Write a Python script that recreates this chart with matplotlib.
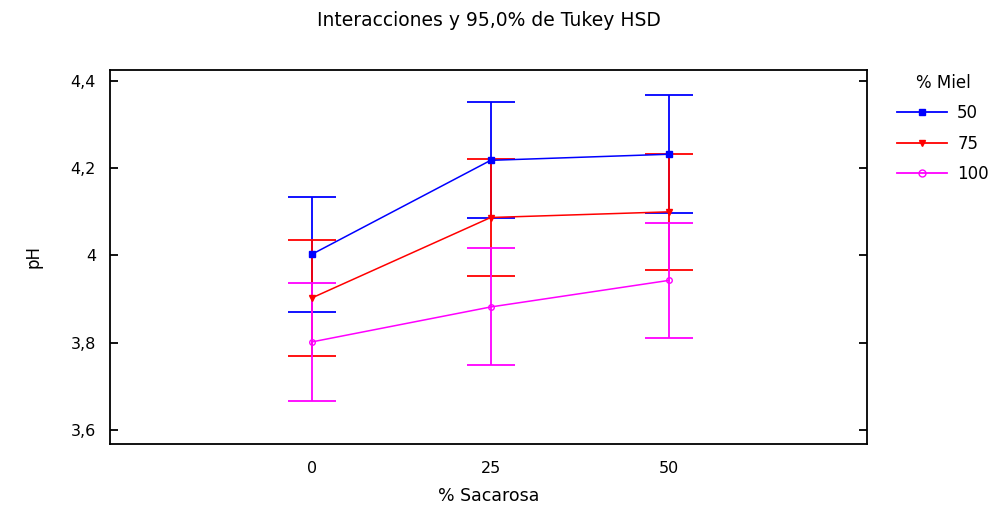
import matplotlib
matplotlib.use('Agg')
import matplotlib.pyplot as plt
from matplotlib.lines import Line2D
from matplotlib.ticker import FuncFormatter

plt.rcParams['font.family'] = ['DejaVu Sans']

# datos
sacarosa = [0, 25, 50]
series = ['50', '75', '100']
media_50 = [4.003, 4.218, 4.232]
media_75 = [3.903, 4.087, 4.100]
media_100 = [3.802, 3.882, 3.943]
err_50 = [0.132, 0.133, 0.135]
err_75 = [0.133, 0.133, 0.133]
err_100 = [0.136, 0.134, 0.132]

colores = ['#0000ff', '#ff0000', '#ff00ff']
marcadores = ['s', 'v', 'o']
medias = [media_50, media_75, media_100]
errores = [err_50, err_75, err_100]

fig = plt.figure(figsize=(9.95, 5.09), dpi=100)
ax = fig.add_axes([110/995, 65/509, 757/995, 374/509])

handles = []
for nombre, m, e, c, mk in zip(series, medias, errores, colores, marcadores):
    cara = 'none' if mk == 'o' else c
    ax.errorbar(sacarosa, m, yerr=e, color=c, linewidth=1.1, elinewidth=1.3,
                capsize=17, capthick=1.3, marker=mk, markersize=4,
                markerfacecolor=cara, markeredgecolor=c)
    handles.append(Line2D([], [], color=c, linewidth=1.3, marker=mk,
                          markersize=5, markerfacecolor=cara,
                          markeredgecolor=c, label=nombre))

ax.set_xlim(-28.3, 77.7)
ax.set_ylim(3.568, 4.425)
ax.set_xticks(sacarosa)
ax.set_yticks([3.6, 3.8, 4.0, 4.2, 4.4])
ax.yaxis.set_major_formatter(FuncFormatter(lambda v, p: f'{v:g}'.replace('.', ',')))
ax.tick_params(axis='x', length=0, pad=12, labelsize=11.5)
ax.tick_params(axis='y', direction='in', length=6, right=True, width=1.3,
               pad=10, labelsize=11.5)
for s in ax.spines.values():
    s.set_linewidth(1.3)

ax.set_xlabel('% Sacarosa', fontsize=12.5, labelpad=8)
ax.set_ylabel('pH', fontsize=12, labelpad=20)
fig.text(489/995, 1 - 20/509, 'Interacciones y 95,0% de Tukey HSD',
         ha='center', va='center', fontsize=13.5)

leg = ax.legend(handles=handles, title='% Miel', loc='upper left',
                bbox_to_anchor=(1.02, 1.03), frameon=False, fontsize=12,
                title_fontsize=12, handlelength=3.0, handletextpad=0.6,
                labelspacing=0.75)

fig.savefig('out.png', dpi=100)
